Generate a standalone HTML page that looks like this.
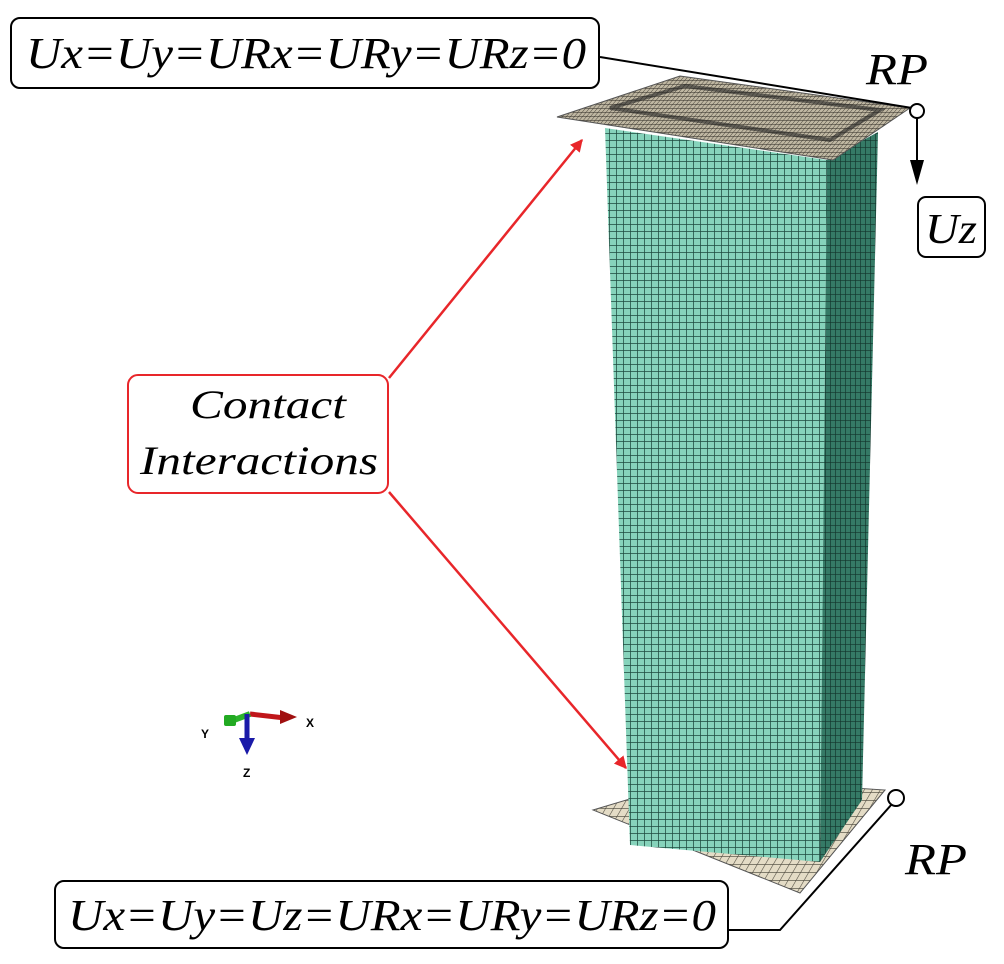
<!DOCTYPE html>
<html><head><meta charset="utf-8"><style>
html,body{margin:0;padding:0;background:#fff;}
svg{display:block;}
text.s{font-family:"Liberation Serif",serif;font-style:italic;}
text.a{font-family:"Liberation Sans",sans-serif;font-weight:bold;font-style:normal;}
</style></head><body>
<svg width="1004" height="964" viewBox="0 0 1004 964" xmlns="http://www.w3.org/2000/svg">
<defs>
<pattern id="gf" width="7" height="7" patternUnits="userSpaceOnUse">
<rect width="7" height="7" fill="#86d3bb"/>
<path d="M0 0H7M0 0V7" stroke="#1d4a3e" stroke-width="1.5"/>
</pattern>
<pattern id="gs" width="5" height="7" patternUnits="userSpaceOnUse">
<rect width="5" height="7" fill="#357a66"/>
<path d="M0 0H5M0 0V7" stroke="#12342b" stroke-width="1.3"/>
</pattern>
<pattern id="gp" width="8" height="8" patternUnits="userSpaceOnUse" patternTransform="skewX(-30)">
<rect width="8" height="8" fill="#e4dcc6"/>
<path d="M0 0H8M0 0V8" stroke="#4d493e" stroke-width="1.3"/>
</pattern>
<pattern id="gt" width="4" height="4" patternUnits="userSpaceOnUse" patternTransform="skewX(-40)">
<rect width="4" height="4" fill="#bfb7a2"/>
<path d="M0 0H4M0 0V4" stroke="#3a362e" stroke-width="1.1"/>
</pattern>
<marker id="ar" viewBox="0 0 10 10" refX="9" refY="5" markerWidth="5" markerHeight="5" orient="auto"><path d="M0 0L10 5L0 10z" fill="#e8262a"/></marker>
</defs>

<polygon points="593,810 700,778 885,790 800,893" fill="url(#gp)" stroke="#555" stroke-width="1"/>

<polygon points="605,128 827,160 820,862 630,845" fill="url(#gf)"/>
<polygon points="827,160 878,132 862,800 820,862" fill="url(#gs)"/>

<polygon points="557,117 680,76 910,108 833,160" fill="url(#gt)" stroke="#555" stroke-width="1"/>
<polygon points="610,108 685,86 880,110 830,140" fill="none" stroke="#222" stroke-width="4" opacity="0.6"/>

<rect x="11" y="18" width="588" height="70" rx="9" fill="#fff" stroke="#000" stroke-width="2"/>
<text class="s" x="26" y="68" font-size="44" textLength="560" lengthAdjust="spacingAndGlyphs">Ux=Uy=URx=URy=URz=0</text>
<line x1="600" y1="57" x2="912" y2="108" stroke="#000" stroke-width="2"/>
<text class="s" x="866" y="84" font-size="44" textLength="62" lengthAdjust="spacingAndGlyphs">RP</text>
<circle cx="917" cy="111" r="7" fill="#fff" stroke="#000" stroke-width="2"/>
<line x1="917" y1="118" x2="917" y2="165" stroke="#000" stroke-width="2"/>
<polygon points="910,160 924,160 917,185" fill="#000"/>
<rect x="918" y="197" width="67" height="60" rx="8" fill="#fff" stroke="#000" stroke-width="2"/>
<text class="s" x="925" y="243" font-size="42" textLength="52" lengthAdjust="spacingAndGlyphs">Uz</text>

<rect x="128" y="375" width="260" height="118" rx="10" fill="#fff" stroke="#e8262a" stroke-width="2"/>
<text class="s" x="190" y="418" font-size="40" textLength="156" lengthAdjust="spacingAndGlyphs">Contact</text>
<text class="s" x="140" y="474" font-size="40" textLength="238" lengthAdjust="spacingAndGlyphs">Interactions</text>
<line x1="389" y1="378" x2="582" y2="140" stroke="#e8262a" stroke-width="2.5" marker-end="url(#ar)"/>
<line x1="389" y1="492" x2="626" y2="768" stroke="#e8262a" stroke-width="2.5" marker-end="url(#ar)"/>

<line x1="250" y1="714" x2="285" y2="718" stroke="#c0161a" stroke-width="5"/>
<polygon points="280,710 297,717 280,724" fill="#a01010"/>
<line x1="250" y1="714" x2="234" y2="720" stroke="#2bb32b" stroke-width="6"/>
<rect x="224" y="715" width="12" height="11" fill="#22aa22" rx="2"/>
<line x1="247" y1="714" x2="247" y2="740" stroke="#1a1aa8" stroke-width="5"/>
<polygon points="239,738 255,738 247,755" fill="#1a1aa8"/>
<text class="a" x="306" y="727" font-size="12">X</text>
<text class="a" x="201" y="738" font-size="12">Y</text>
<text class="a" x="243" y="777" font-size="12">Z</text>

<rect x="55" y="881" width="673" height="67" rx="9" fill="#fff" stroke="#000" stroke-width="2"/>
<text class="s" x="68" y="930" font-size="44" textLength="648" lengthAdjust="spacingAndGlyphs">Ux=Uy=Uz=URx=URy=URz=0</text>
<polyline points="728,930 780,930 892,804" fill="none" stroke="#000" stroke-width="2"/>
<circle cx="896" cy="798" r="8" fill="#fff" stroke="#000" stroke-width="2"/>
<text class="s" x="905" y="874" font-size="44" textLength="62" lengthAdjust="spacingAndGlyphs">RP</text>
</svg>
</body></html>
